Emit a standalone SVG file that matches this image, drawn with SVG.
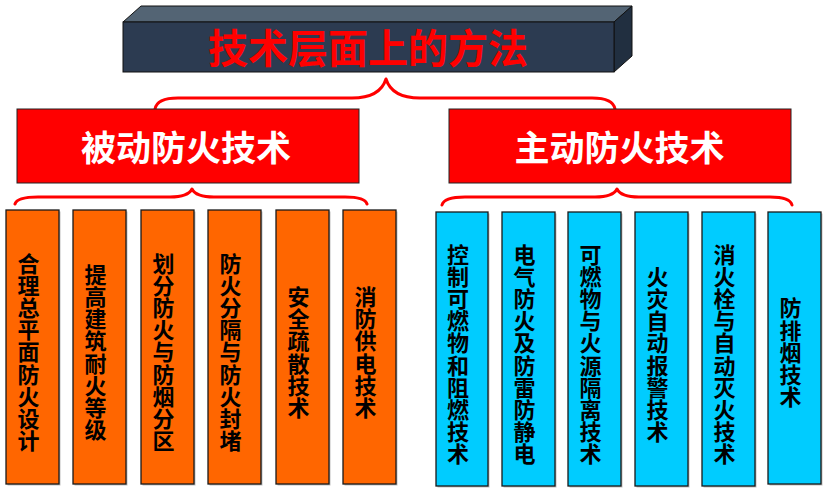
<svg xmlns="http://www.w3.org/2000/svg" width="827" height="490" viewBox="0 0 827 490">
<style>
.cjk{font-family:"Noto Sans CJK SC","Noto Sans CJK TC",sans-serif;font-weight:700;}
.title{font-size:40px;fill:#FF0000;text-anchor:middle;}
.sub{font-size:35px;fill:#FFFFFF;text-anchor:middle;}
.col{font-size:22px;fill:#000000;text-anchor:middle;}
.redbox{fill:#FF0000;stroke:#222;stroke-width:1;}
.org{fill:#FF6600;stroke:#1a1a1a;stroke-width:1.3;}
.blu{fill:#00CCFF;stroke:#1a1a1a;stroke-width:1.3;}
.shd{fill:#BFBFBF;}
.brace{fill:none;stroke:#FF0000;stroke-width:3;stroke-linecap:round;stroke-linejoin:round;}
</style>
<rect width="827" height="490" fill="#FFFFFF"/>

<g id="title">
  <polygon points="123,22 141,6 632,6 614,22" fill="#536474" stroke="#111" stroke-width="1"/>
  <polygon points="614,22 632,6 632,56 614,72" fill="#212F40" stroke="#111" stroke-width="1"/>
  <rect x="123" y="22" width="491" height="50" fill="#2C3B51" stroke="#111" stroke-width="1"/>
  <text class="cjk title" x="368" y="62.5">技术层面上的方法</text>
</g>

<g id="connectors">
  <path class="brace" d="M155,109 Q157,98 178,98 L352,98 Q380,98 386,79 Q392,98 420,98 L592,98 Q613,98 615,109"/>
  <path class="brace" d="M15,204 Q17,197 38,197 L170,197 Q188,197 192,189 Q196,197 214,197 L345,197 Q365,197 367,204"/>
  <path class="brace" d="M442,205 Q444,197 465,197 L595,197 Q613,197 617,189 Q621,197 639,197 L770,197 Q790,197 792,205"/>
</g>

<g id="passive">
  <rect class="redbox" x="17" y="109" width="342" height="74"/>
  <text class="cjk sub" x="186" y="161">被动防火技术</text>
</g>
<g id="active">
  <rect class="redbox" x="449" y="109" width="342" height="74"/>
  <text class="cjk sub" x="619.5" y="161">主动防火技术</text>
</g>

<g id="p1">
  <rect class="shd" x="7.5" y="211.5" width="53" height="274"/>
  <rect class="org" x="6" y="210" width="53" height="274"/>
  <text class="cjk col" y="271.6"><tspan x="28.5">合</tspan><tspan x="28.5" dy="22.2">理</tspan><tspan x="28.5" dy="22.2">总</tspan><tspan x="28.5" dy="22.2">平</tspan><tspan x="28.5" dy="22.2">面</tspan><tspan x="28.5" dy="22.2">防</tspan><tspan x="28.5" dy="22.2">火</tspan><tspan x="28.5" dy="22.2">设</tspan><tspan x="28.5" dy="22.2">计</tspan></text>
</g>
<g id="p2">
  <rect class="shd" x="74.5" y="211.5" width="53" height="274"/>
  <rect class="org" x="73" y="210" width="53" height="274"/>
  <text class="cjk col" y="282.7"><tspan x="95.5">提</tspan><tspan x="95.5" dy="22.2">高</tspan><tspan x="95.5" dy="22.2">建</tspan><tspan x="95.5" dy="22.2">筑</tspan><tspan x="95.5" dy="22.2">耐</tspan><tspan x="95.5" dy="22.2">火</tspan><tspan x="95.5" dy="22.2">等</tspan><tspan x="95.5" dy="22.2">级</tspan></text>
</g>
<g id="p3">
  <rect class="shd" x="142.5" y="211.5" width="53" height="274"/>
  <rect class="org" x="141" y="210" width="53" height="274"/>
  <text class="cjk col" y="271.6"><tspan x="163.5">划</tspan><tspan x="163.5" dy="22.2">分</tspan><tspan x="163.5" dy="22.2">防</tspan><tspan x="163.5" dy="22.2">火</tspan><tspan x="163.5" dy="22.2">与</tspan><tspan x="163.5" dy="22.2">防</tspan><tspan x="163.5" dy="22.2">烟</tspan><tspan x="163.5" dy="22.2">分</tspan><tspan x="163.5" dy="22.2">区</tspan></text>
</g>
<g id="p4">
  <rect class="shd" x="209.5" y="211.5" width="53" height="274"/>
  <rect class="org" x="208" y="210" width="53" height="274"/>
  <text class="cjk col" y="271.6"><tspan x="230.5">防</tspan><tspan x="230.5" dy="22.2">火</tspan><tspan x="230.5" dy="22.2">分</tspan><tspan x="230.5" dy="22.2">隔</tspan><tspan x="230.5" dy="22.2">与</tspan><tspan x="230.5" dy="22.2">防</tspan><tspan x="230.5" dy="22.2">火</tspan><tspan x="230.5" dy="22.2">封</tspan><tspan x="230.5" dy="22.2">堵</tspan></text>
</g>
<g id="p5">
  <rect class="shd" x="277.5" y="211.5" width="53" height="274"/>
  <rect class="org" x="276" y="210" width="53" height="274"/>
  <text class="cjk col" y="305"><tspan x="298.5">安</tspan><tspan x="298.5" dy="22.2">全</tspan><tspan x="298.5" dy="22.2">疏</tspan><tspan x="298.5" dy="22.2">散</tspan><tspan x="298.5" dy="22.2">技</tspan><tspan x="298.5" dy="22.2">术</tspan></text>
</g>
<g id="p6">
  <rect class="shd" x="344.5" y="211.5" width="53" height="274"/>
  <rect class="org" x="343" y="210" width="53" height="274"/>
  <text class="cjk col" y="305"><tspan x="365.5">消</tspan><tspan x="365.5" dy="22.2">防</tspan><tspan x="365.5" dy="22.2">供</tspan><tspan x="365.5" dy="22.2">电</tspan><tspan x="365.5" dy="22.2">技</tspan><tspan x="365.5" dy="22.2">术</tspan></text>
</g>

<g id="a1">
  <rect class="shd" x="437.5" y="213.5" width="52" height="274"/>
  <rect class="blu" x="436" y="212" width="52" height="274"/>
  <text class="cjk col" y="262.5"><tspan x="458">控</tspan><tspan x="458" dy="22.2">制</tspan><tspan x="458" dy="22.2">可</tspan><tspan x="458" dy="22.2">燃</tspan><tspan x="458" dy="22.2">物</tspan><tspan x="458" dy="22.2">和</tspan><tspan x="458" dy="22.2">阻</tspan><tspan x="458" dy="22.2">燃</tspan><tspan x="458" dy="22.2">技</tspan><tspan x="458" dy="22.2">术</tspan></text>
</g>
<g id="a2">
  <rect class="shd" x="503.5" y="213.5" width="53" height="274"/>
  <rect class="blu" x="502" y="212" width="53" height="274"/>
  <text class="cjk col" y="262.5"><tspan x="524.5">电</tspan><tspan x="524.5" dy="22.2">气</tspan><tspan x="524.5" dy="22.2">防</tspan><tspan x="524.5" dy="22.2">火</tspan><tspan x="524.5" dy="22.2">及</tspan><tspan x="524.5" dy="22.2">防</tspan><tspan x="524.5" dy="22.2">雷</tspan><tspan x="524.5" dy="22.2">防</tspan><tspan x="524.5" dy="22.2">静</tspan><tspan x="524.5" dy="22.2">电</tspan></text>
</g>
<g id="a3">
  <rect class="shd" x="569.5" y="213.5" width="53" height="274"/>
  <rect class="blu" x="568" y="212" width="53" height="274"/>
  <text class="cjk col" y="262.5"><tspan x="590.5">可</tspan><tspan x="590.5" dy="22.2">燃</tspan><tspan x="590.5" dy="22.2">物</tspan><tspan x="590.5" dy="22.2">与</tspan><tspan x="590.5" dy="22.2">火</tspan><tspan x="590.5" dy="22.2">源</tspan><tspan x="590.5" dy="22.2">隔</tspan><tspan x="590.5" dy="22.2">离</tspan><tspan x="590.5" dy="22.2">技</tspan><tspan x="590.5" dy="22.2">术</tspan></text>
</g>
<g id="a4">
  <rect class="shd" x="636.5" y="213.5" width="53" height="274"/>
  <rect class="blu" x="635" y="212" width="53" height="274"/>
  <text class="cjk col" y="284.7"><tspan x="657.5">火</tspan><tspan x="657.5" dy="22.2">灾</tspan><tspan x="657.5" dy="22.2">自</tspan><tspan x="657.5" dy="22.2">动</tspan><tspan x="657.5" dy="22.2">报</tspan><tspan x="657.5" dy="22.2">警</tspan><tspan x="657.5" dy="22.2">技</tspan><tspan x="657.5" dy="22.2">术</tspan></text>
</g>
<g id="a5">
  <rect class="shd" x="703.5" y="213.5" width="53" height="274"/>
  <rect class="blu" x="702" y="212" width="53" height="274"/>
  <text class="cjk col" y="262.5"><tspan x="724.5">消</tspan><tspan x="724.5" dy="22.2">火</tspan><tspan x="724.5" dy="22.2">栓</tspan><tspan x="724.5" dy="22.2">与</tspan><tspan x="724.5" dy="22.2">自</tspan><tspan x="724.5" dy="22.2">动</tspan><tspan x="724.5" dy="22.2">灭</tspan><tspan x="724.5" dy="22.2">火</tspan><tspan x="724.5" dy="22.2">技</tspan><tspan x="724.5" dy="22.2">术</tspan></text>
</g>
<g id="a6">
  <rect class="shd" x="769.5" y="213.5" width="53" height="272"/>
  <rect class="blu" x="768" y="212" width="53" height="272"/>
  <text class="cjk col" y="316.4"><tspan x="790.5">防</tspan><tspan x="790.5" dy="22.2">排</tspan><tspan x="790.5" dy="22.2">烟</tspan><tspan x="790.5" dy="22.2">技</tspan><tspan x="790.5" dy="22.2">术</tspan></text>
</g>
</svg>
